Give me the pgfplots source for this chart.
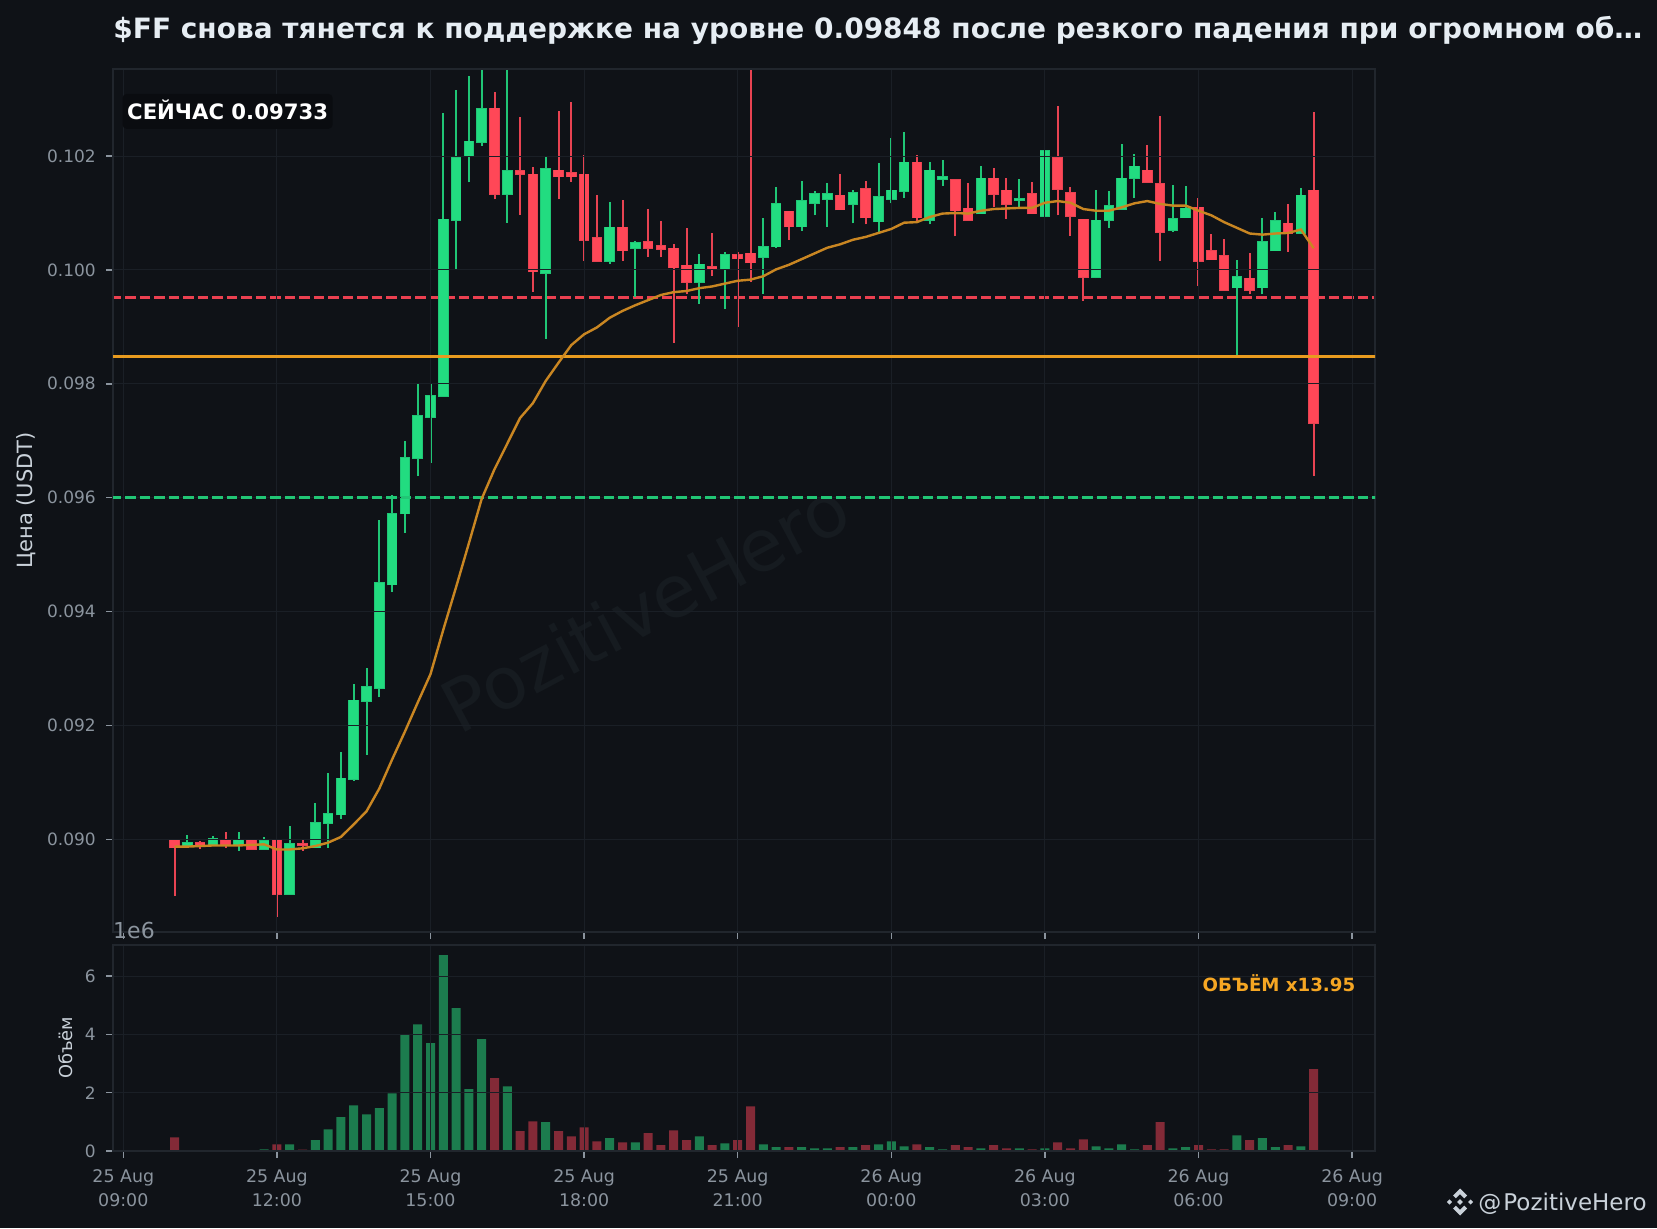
\documentclass[border=0pt]{standalone}
\usepackage{fontspec}
\setmainfont{DejaVu Sans}
\usepackage{pgfplots}
\usepackage{pgfplotstable}
\pgfplotsset{compat=1.18}
\definecolor{bg}{HTML}{0F1217}
\definecolor{gridc}{HTML}{1A1F26}
\definecolor{spine}{HTML}{21262D}
\definecolor{tickc}{HTML}{8B949E}
\definecolor{tickcl}{HTML}{C9D1D9}
\definecolor{titlec}{HTML}{E6EDF3}
\definecolor{orangetxt}{HTML}{F5A623}
\definecolor{cgreen}{HTML}{22DC80}
\definecolor{cgreenE}{HTML}{20C676}
\definecolor{cred}{HTML}{FF4757}
\definecolor{credE}{HTML}{E84352}
\definecolor{vgreen}{HTML}{1C7C4E}
\definecolor{vred}{HTML}{832A37}
\definecolor{hred}{HTML}{EB4050}
\definecolor{hgreen}{HTML}{21C675}
\definecolor{horange}{HTML}{E89B1F}
\definecolor{ema}{HTML}{C98622}
\definecolor{wm}{HTML}{161B20}
\definecolor{boxc}{HTML}{0A0C10}

\pgfplotstableread{
i open high low close
5 .08987 .09008 .08987 .08994
7 .08990 .09006 .08989 .09001
9 .08989 .09012 .08980 .08998
11 .08983 .09004 .08982 .08997
13 .08904 .09024 .08904 .08992
15 .08985 .09063 .08985 .09029
16 .09028 .09117 .08985 .09045
17 .09043 .09154 .09036 .09107
18 .09105 .09272 .09103 .09244
19 .09242 .09300 .09148 .09267
20 .09265 .09560 .09249 .09450
21 .09447 .09605 .09434 .09572
22 .09572 .09699 .09538 .09670
23 .09669 .09799 .09638 .09744
24 .09742 .09799 .09661 .09779
25 .09778 .10276 .09778 .10089
26 .10087 .10316 .10000 .10197
27 .10199 .10340 .10154 .10226
28 .10224 .10380 .10218 .10283
30 .10133 .10370 .10083 .10174
33 .09994 .10198 .09879 .10177
38 .10016 .10119 .10011 .10075
40 .10038 .10050 .09952 .10047
45 .09978 .10028 .09941 .10010
47 .10001 .10031 .09932 .10026
50 .10023 .10091 .09958 .10040
51 .10041 .10145 .10039 .10116
53 .10076 .10156 .10069 .10121
54 .10118 .10138 .10096 .10133
55 .10125 .10152 .10076 .10133
57 .10115 .10140 .10082 .10135
59 .10085 .10188 .10066 .10128
60 .10124 .10232 .10117 .10140
61 .10138 .10242 .10127 .10189
63 .10087 .10189 .10080 .10175
64 .10160 .10193 .10148 .10163
67 .10099 .10182 .10099 .10161
70 .10122 .10160 .10110 .10125
72 .10094 .10211 .10094 .10209
76 .09988 .10140 .09985 .10087
77 .10087 .10138 .10073 .10112
78 .10107 .10221 .10107 .10161
79 .10161 .10204 .10126 .10182
82 .10070 .10149 .10067 .10090
83 .10092 .10147 .10092 .10108
87 .09969 .10017 .09849 .09988
89 .09969 .10091 .09957 .10049
90 .10034 .10101 .10034 .10086
92 .10065 .10144 .10065 .10131
}\greens

\pgfplotstableread{
i open high low close
4 .08998 .08998 .08900 .08985
6 .08993 .08996 .08983 .08989
8 .08998 .09013 .08985 .08990
10 .08998 .09000 .08982 .08982
12 .08998 .09000 .08863 .08904
14 .08992 .09000 .08980 .08989
29 .10284 .10313 .10124 .10133
31 .10174 .10269 .10097 .10168
32 .10168 .10181 .09962 .09997
34 .10175 .10279 .10124 .10164
35 .10170 .10295 .10155 .10164
36 .10168 .10202 .10016 .10053
37 .10057 .10131 .10016 .10016
39 .10075 .10123 .10016 .10034
41 .10049 .10107 .10023 .10038
42 .10042 .10086 .10022 .10036
43 .10038 .10045 .09872 .10004
44 .10008 .10073 .09957 .09978
46 .10005 .10065 .09990 .10001
48 .10026 .10031 .09899 .10020
49 .10029 .10400 .09979 .10013
52 .10103 .10103 .10053 .10076
56 .10131 .10168 .10106 .10106
58 .10142 .10156 .10080 .10092
62 .10189 .10202 .10085 .10092
65 .10158 .10158 .10059 .10104
66 .10108 .10152 .10087 .10087
68 .10161 .10179 .10110 .10133
69 .10140 .10161 .10090 .10115
71 .10133 .10154 .10099 .10099
73 .10197 .10288 .10096 .10142
74 .10135 .10145 .10060 .10094
75 .10089 .10089 .09946 .09988
80 .10175 .10219 .10154 .10154
81 .10151 .10270 .10016 .10066
84 .10110 .10126 .09972 .10016
85 .10033 .10063 .10018 .10018
86 .10025 .10054 .09965 .09965
88 .09985 .10029 .09957 .09964
91 .10082 .10116 .10032 .10065
93 .10140 .10277 .09638 .09731
}\reds

\pgfplotstableread{
i v
4 .08987
5 .08987
6 .08988
7 .08989
8 .08989
9 .08989
10 .08990
11 .08991
12 .08982
13 .08982
14 .08984
15 .08988
16 .08994
17 .09004
18 .09026
19 .09049
20 .09089
21 .09140
22 .09189
23 .09240
24 .09290
25 .09368
26 .09443
27 .09520
28 .09598
29 .09650
30 .09695
31 .09740
32 .09766
33 .09805
34 .09837
35 .09868
36 .09887
37 .09899
38 .09916
39 .09928
40 .09938
41 .09947
42 .09956
43 .09961
44 .09963
45 .09968
46 .09971
47 .09976
48 .09981
49 .09983
50 .09989
51 .10001
52 .10009
53 .10019
54 .10029
55 .10039
56 .10045
57 .10053
58 .10058
59 .10065
60 .10072
61 .10083
62 .10084
63 .10093
64 .10099
65 .10100
66 .10099
67 .10104
68 .10107
69 .10108
70 .10109
71 .10109
72 .10118
73 .10121
74 .10118
75 .10107
76 .10104
77 .10104
78 .10110
79 .10117
80 .10121
81 .10116
82 .10113
83 .10113
84 .10104
85 .10096
86 .10084
87 .10074
88 .10064
89 .10062
90 .10064
91 .10065
92 .10071
93 .10038
}\emaline

\pgfplotstableread{
i v
5 .01
7 .01
9 .01
11 .06
13 .23
15 .37
16 .74
17 1.16
18 1.57
19 1.26
20 1.47
21 1.98
22 4.00
23 4.35
24 3.70
25 6.72
26 4.90
27 2.12
28 3.84
30 2.22
33 .99
38 .44
40 .30
45 .50
47 .26
50 .23
51 .13
53 .13
54 .09
55 .09
57 .13
59 .23
60 .33
61 .16
63 .13
64 .06
67 .09
70 .09
72 .09
76 .16
77 .09
78 .23
79 .06
82 .09
83 .13
87 .54
89 .44
90 .13
92 .16
}\volg

\pgfplotstableread{
i v
4 .47
6 .01
8 .01
10 .01
12 .23
14 .05
29 2.50
31 .68
32 1.02
34 .68
35 .50
36 .81
37 .33
39 .30
41 .61
42 .20
43 .71
44 .37
46 .20
48 .37
49 1.53
52 .13
56 .13
58 .20
62 .23
65 .20
66 .13
68 .20
69 .09
71 .06
73 .30
74 .09
75 .40
80 .20
81 .99
84 .20
85 .06
86 .06
88 .37
91 .20
93 2.81
}\volr

\pgfplotsset{
  chartbase/.style={
    scale only axis,
    xmin=-0.805, xmax=97.79,
    xtick={0,12,...,96},
    grid=major,
    grid style={gridc, line width=.5pt},
    axis line style={spine, line width=.8pt},
    axis on top,
    tick align=outside,
    tick pos=lower,
    tick style={tickc, line width=.7pt},
    major tick length=3.5pt,
    ticklabel style={tickc},
    clip=true,
  },
}
\newcommand{\wick}[2]{%
  \addplot[draw=none, mark=none, forget plot,
    error bars/.cd, y dir=plus, y explicit, error mark=none,
    error bar style={line width=1pt, draw=#2}]
    table[x=i, y=low, y error plus expr=\thisrow{high}-\thisrow{low}] {#1};}
% #4 and #5 name the lower and upper edge of the body: open and close, or close and open.
% The first stroke is the body's edge line: it reaches a hair past the body.
\newcommand{\body}[5]{%
  \addplot[draw=none, mark=none, forget plot,
    error bars/.cd, y dir=plus, y explicit, error mark=none,
    error bar style={line width=5.3pt, draw=#2}]
    table[x=i, y expr=\thisrow{#4}-0.000013, y error plus expr=\thisrow{#5}-\thisrow{#4}+0.000026] {#1};
  \addplot[draw=none, mark=none, forget plot,
    error bars/.cd, y dir=plus, y explicit, error mark=none,
    error bar style={line width=4.4pt, draw=#3}]
    table[x=i, y=#4, y error plus expr=\thisrow{#5}-\thisrow{#4}] {#1};}

\begin{document}
\begin{tikzpicture}
\fill[bg] (0,0) rectangle (828.5pt,614pt);
\path[use as bounding box] (0,0) rectangle (828.5pt,614pt);
% watermark
\node[wm, rotate=28, font=\fontsize{36}{40}\selectfont] at (322.5pt,310.7pt) {PozitiveHero};

\begin{axis}[chartbase,
  at={(56.5pt,148pt)}, anchor=south west,
  width=631pt, height=431.5pt,
  ymin=0.08837, ymax=0.10353,
  ytick={0.090,0.092,0.094,0.096,0.098,0.100,0.102},
  xticklabels={},
  yticklabel style={xshift=-1.6pt, font=\fontsize{8.5}{10}\selectfont, /pgf/number format/fixed, /pgf/number format/fixed zerofill, /pgf/number format/precision=3, /pgf/number format/assume math mode=true},
  scaled y ticks=false,
  ylabel={Цена (USDT)},
  every axis y label/.style={at={(axis description cs:-0.0689,0.5)}, rotate=90, anchor=center, text=tickcl, font=\fontsize{10.5}{12}\selectfont},
]
\addplot[hred, line width=1.35pt, dash pattern=on 5.25pt off 2pt, forget plot] coordinates {(-1,.09952) (98,.09952)};
\wick{\greens}{cgreenE}
\wick{\reds}{credE}
\body{\greens}{cgreenE}{cgreen}{open}{close}
\body{\reds}{credE}{cred}{close}{open}
\end{axis}

% lines that lie over the grid
\begin{axis}[
  scale only axis, hide axis,
  at={(56.5pt,148pt)}, anchor=south west,
  width=631pt, height=431.5pt,
  xmin=-0.805, xmax=97.79,
  ymin=0.08837, ymax=0.10353,
]
\addplot[hgreen, line width=1.35pt, dash pattern=on 5.25pt off 2pt, forget plot] coordinates {(-1,.09600) (98,.09600)};
\addplot[horange, line width=1.7pt, forget plot] coordinates {(-1,.09848) (98,.09848)};
\addplot[ema, line width=1.2pt, forget plot] table[x=i,y=v] {\emaline};
\end{axis}

\begin{axis}[chartbase,
  at={(56.5pt,38.5pt)}, anchor=south west,
  width=631pt, height=103pt,
  ymin=0, ymax=7.07,
  ytick={0,2,4,6},
  xticklabels={{25 Aug\\09:00},{25 Aug\\12:00},{25 Aug\\15:00},{25 Aug\\18:00},{25 Aug\\21:00},{26 Aug\\00:00},{26 Aug\\03:00},{26 Aug\\06:00},{26 Aug\\09:00}},
  xticklabel style={yshift=-2.4pt, align=center, font=\fontsize{8.7}{11.7}\selectfont},
  yticklabel style={xshift=-1.6pt, font=\fontsize{8.5}{10}\selectfont, /pgf/number format/assume math mode=true},
  ylabel={Объём},
  every axis y label/.style={at={(axis description cs:-0.0376,0.5)}, rotate=90, anchor=center, text=tickcl, font=\fontsize{8.9}{10}\selectfont},
]
\addplot[ybar, bar width=4.5pt, bar shift=0pt, fill=vgreen, draw=none, forget plot] table[x=i,y=v] {\volg};
\addplot[ybar, bar width=4.5pt, bar shift=0pt, fill=vred, draw=none, forget plot] table[x=i,y=v] {\volr};
\end{axis}

% texts
\node[anchor=west, text=titlec, font=\bfseries\fontsize{14}{16}\selectfont, inner sep=0pt] at (56.5pt,598.75pt)
  {\$FF снова тянется к поддержке на уровне 0.09848 после резкого падения при огромном об…};
\fill[boxc, rounded corners=2pt] (61.3pt,549.6pt) rectangle (166.3pt,567pt);
\node[anchor=center, text=white, font=\bfseries\fontsize{10.6}{12}\selectfont, inner sep=0pt] at (113.8pt,559pt) {СЕЙЧАС 0.09733};
\node[anchor=center, text=tickc, font=\fontsize{11}{13}\selectfont, inner sep=0pt] at (67pt,149pt) {1e6};
\node[anchor=east, text=orangetxt, font=\bfseries\fontsize{9.1}{10}\selectfont, inner sep=0pt] at (677.8pt,122.5pt) {ОБЪЁМ x13.95};
\node[anchor=east, text=tickcl, font=\fontsize{11.5}{13}\selectfont, inner sep=0pt] at (823.5pt,12pt) {@\hspace{-2.6pt} PozitiveHero};
% logo
\begin{scope}[shift={(730pt,13pt)}, x=1pt, y=1pt]
\fill[tickcl] (0,6.75)--(3.5,3.25)--(2.1,1.85)--(0,3.95)--(-2.1,1.85)--(-3.5,3.25)--cycle;
\fill[tickcl] (0,-6.75)--(3.5,-3.25)--(2.1,-1.85)--(0,-3.95)--(-2.1,-1.85)--(-3.5,-3.25)--cycle;
\fill[tickcl] (0,1.4)--(1.4,0)--(0,-1.4)--(-1.4,0)--cycle;
\fill[tickcl] (5.3,1.3)--(6.6,0)--(5.3,-1.3)--(4,0)--cycle;
\fill[tickcl] (-5.3,1.3)--(-6.6,0)--(-5.3,-1.3)--(-4,0)--cycle;
\end{scope}
\end{tikzpicture}
\end{document}
